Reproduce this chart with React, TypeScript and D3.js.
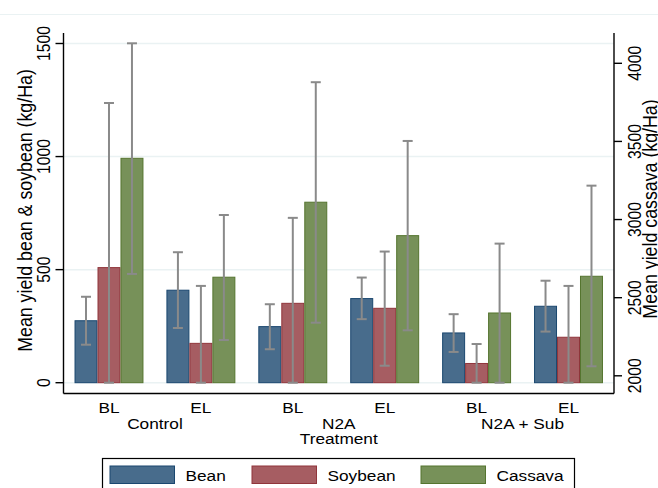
import { useRef, useEffect } from 'react';
import * as d3 from 'd3';

// categorias e valores
const grupos = ['Control', 'N2A', 'N2A + Sub'];
const periodos = ['BL', 'EL'];
const barras = ['Control BL', 'Control EL', 'N2A BL', 'N2A EL', 'N2A + Sub BL', 'N2A + Sub EL'];

const beanMean = [274, 409, 248, 372, 220, 338];
const beanLo = [168, 242, 148, 281, 136, 226];
const beanHi = [380, 577, 347, 465, 303, 451];

const soyMean = [509, 174, 351, 329, 85, 201];
const soyLo = [0, 0, 0, 75, 0, 0];
const soyHi = [1237, 428, 729, 580, 171, 428];

// mandioca no eixo da direita
const cassMean = [3392, 2631, 3111, 2897, 2402, 2637];
const cassLo = [2652, 2229, 2340, 2291, 1900, 2061];
const cassHi = [4128, 3029, 3879, 3503, 2846, 3217];

const leftTicks = [0, 500, 1000, 1500];
const rightTicks = [2000, 2500, 3000, 3500, 4000];
const legenda = ['Bean', 'Soybean', 'Cassava'];

const W = 658;
const H = 488;
const FONT = '"Liberation Sans", Arial, sans-serif';
const SX = 1.12; // o texto original parece esticado na horizontal

const App = () => {
  const svgRef = useRef(null);

  useEffect(() => {
    const svg = d3.select(svgRef.current);
    svg.selectAll('*').remove();

    const plot = { left: 63.5, right: 614, top: 33, bottom: 393.5 };

    const x = d3.scaleBand().domain(barras).range([plot.left, plot.right]).paddingInner(0.25).paddingOuter(0.12);
    const xs = d3.scaleBand().domain(['bean', 'soy', 'cass']).range([0, x.bandwidth()]);

    // escalas (ler do grafico)
    const yL = d3.scaleLinear().domain([0, 1500]).range([382.7, 43.5]);
    const yR = d3.scaleLinear().domain([2000, 4000]).range([375.8, 63.3]);
    const cassBase = yR.invert(yL(0));

    const cores = {
      bean: { fill: '#486c8c', stroke: '#1a476f' },
      soy: { fill: '#a65d62', stroke: '#90353b' },
      cass: { fill: '#779159', stroke: '#55752f' },
    };

    // linha clara no topo
    svg.append('line')
      .attr('x1', 0).attr('x2', W).attr('y1', 14.5).attr('y2', 14.5)
      .attr('stroke', '#eaf2f3').attr('stroke-width', 1.2);

    // grade
    svg.append('g')
      .selectAll('line')
      .data(leftTicks)
      .join('line')
      .attr('x1', plot.left).attr('x2', plot.right)
      .attr('y1', (d) => yL(d)).attr('y2', (d) => yL(d))
      .attr('stroke', '#eaf2f3').attr('stroke-width', 1.5);

    const series = [
      { key: 'bean', mean: beanMean, lo: beanLo, hi: beanHi, y: yL, base: 0 },
      { key: 'soy', mean: soyMean, lo: soyLo, hi: soyHi, y: yL, base: 0 },
      { key: 'cass', mean: cassMean, lo: cassLo, hi: cassHi, y: yR, base: cassBase },
    ];

    const gBars = svg.append('g');
    series.forEach((s) => {
      gBars.selectAll('.bar-' + s.key)
        .data(s.mean)
        .join('rect')
        .attr('class', 'bar-' + s.key)
        .attr('x', (d, i) => x(barras[i]) + xs(s.key) + 0.5)
        .attr('width', xs.bandwidth() - 1)
        .attr('y', (d) => s.y(d))
        .attr('height', (d) => s.y(s.base) - s.y(d))
        .attr('fill', cores[s.key].fill)
        .attr('stroke', cores[s.key].stroke)
        .attr('stroke-width', 1);
    });

    // barras de erro
    const gErr = svg.append('g').attr('stroke', '#8a8a8a').attr('stroke-width', 2).attr('fill', 'none');
    series.forEach((s) => {
      s.mean.forEach((m, i) => {
        const cx = x(barras[i]) + xs(s.key) + xs.bandwidth() / 2;
        const lo = Math.max(s.lo[i], s.base);
        const y1 = s.y(lo);
        const y2 = s.y(s.hi[i]);
        gErr.append('line').attr('x1', cx).attr('x2', cx).attr('y1', y1).attr('y2', y2);
        gErr.append('line').attr('x1', cx - 5).attr('x2', cx + 5).attr('y1', y1).attr('y2', y1);
        gErr.append('line').attr('x1', cx - 5).attr('x2', cx + 5).attr('y1', y2).attr('y2', y2);
      });
    });

    // eixos
    const eixo = svg.append('g').attr('stroke', '#000').attr('stroke-width', 1.4);
    eixo.append('line').attr('x1', plot.left).attr('x2', plot.left).attr('y1', plot.top).attr('y2', plot.bottom);
    eixo.append('line').attr('x1', plot.right).attr('x2', plot.right).attr('y1', plot.top).attr('y2', plot.bottom);
    eixo.append('line').attr('x1', plot.left).attr('x2', plot.right).attr('y1', plot.bottom).attr('y2', plot.bottom);

    eixo.selectAll('.tl')
      .data(leftTicks)
      .join('line')
      .attr('class', 'tl')
      .attr('x1', plot.left - 8).attr('x2', plot.left)
      .attr('y1', (d) => yL(d)).attr('y2', (d) => yL(d));

    eixo.selectAll('.tr')
      .data(rightTicks)
      .join('line')
      .attr('class', 'tr')
      .attr('x1', plot.right).attr('x2', plot.right + 8)
      .attr('y1', (d) => yR(d)).attr('y2', (d) => yR(d));

    const txt = svg.append('g').attr('font-family', FONT).attr('font-size', 15.4).attr('fill', '#000');

    txt.selectAll('.ll')
      .data(leftTicks)
      .join('text')
      .attr('class', 'll')
      .attr('text-anchor', 'middle')
      .attr('font-size', 15.7)
      .attr('transform', (d) => `translate(49.5,${yL(d)}) scale(${SX},1) rotate(-90)`)
      .text((d) => d);

    txt.selectAll('.rl')
      .data(rightTicks)
      .join('text')
      .attr('class', 'rl')
      .attr('text-anchor', 'middle')
      .attr('font-size', 15.7)
      .attr('transform', (d) => `translate(641,${yR(d)}) scale(${SX},1) rotate(-90)`)
      .text((d) => d);

    txt.append('text')
      .attr('text-anchor', 'middle')
      .attr('font-size', 17.8)
      .attr('transform', `translate(31.5,210.5) scale(${SX},1) rotate(-90)`)
      .text('Mean yield bean & soybean (kg/Ha)');

    txt.append('text')
      .attr('text-anchor', 'middle')
      .attr('font-size', 17.8)
      .attr('transform', `translate(656.5,209) scale(${SX},1) rotate(-90)`)
      .text('Mean yield cassava (kg/Ha)');

    // rotulos do eixo X
    txt.selectAll('.xl')
      .data(barras)
      .join('text')
      .attr('class', 'xl')
      .attr('text-anchor', 'middle')
      .attr('transform', (d) => `translate(${x(d) + x.bandwidth() / 2},412.7) scale(${SX},1)`)
      .text((d, i) => periodos[i % 2]);

    txt.selectAll('.gl')
      .data(grupos)
      .join('text')
      .attr('class', 'gl')
      .attr('text-anchor', 'middle')
      .attr('transform', (d, i) => `translate(${(x(barras[i * 2]) + x(barras[i * 2 + 1]) + x.bandwidth()) / 2},428.8) scale(${SX},1)`)
      .text((d) => d);

    txt.append('text')
      .attr('text-anchor', 'middle')
      .attr('transform', `translate(${(x(barras[2]) + x(barras[3]) + x.bandwidth()) / 2},444) scale(${SX},1)`)
      .text('Treatment');

    // legenda
    const leg = svg.append('g');
    leg.append('rect')
      .attr('x', 102.5).attr('y', 458.5).attr('width', 472).attr('height', 40)
      .attr('fill', '#fff').attr('stroke', '#000').attr('stroke-width', 1.2);

    const legX = d3.scaleOrdinal().domain(legenda).range([110, 252, 421]);
    const legCores = [cores.bean, cores.soy, cores.cass];
    leg.selectAll('.sw')
      .data(legenda)
      .join('rect')
      .attr('class', 'sw')
      .attr('x', (d) => legX(d)).attr('y', 466)
      .attr('width', 64.5).attr('height', 17.5)
      .attr('fill', (d, i) => legCores[i].fill)
      .attr('stroke', (d, i) => legCores[i].stroke);
    leg.selectAll('.lt')
      .data(legenda)
      .join('text')
      .attr('class', 'lt')
      .attr('transform', (d) => `translate(${legX(d) + 75.5},480.7) scale(${SX},1)`)
      .attr('font-family', FONT).attr('font-size', 15.4)
      .text((d) => d);
  }, []);

  return (
    <div style={{ position: 'fixed', top: 0, left: 0, width: W, height: H, background: '#fff' }}>
      <svg ref={svgRef} width={W} height={H} style={{ display: 'block' }}></svg>
    </div>
  );
};

export default App;
